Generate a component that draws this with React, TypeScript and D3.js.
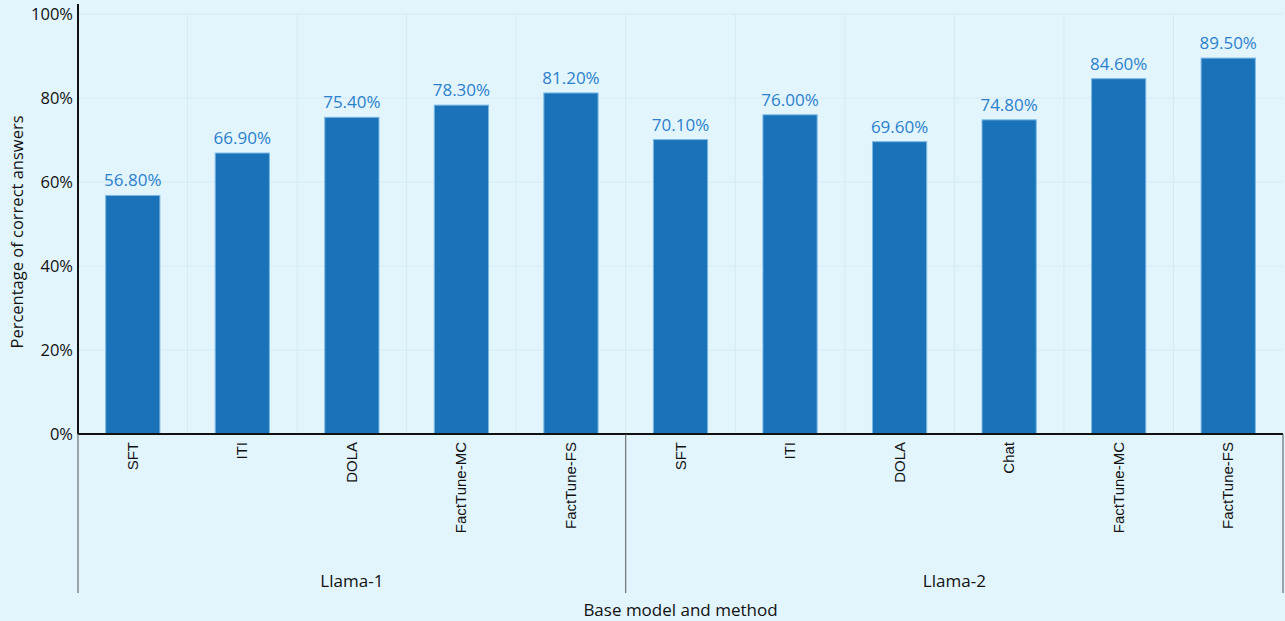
import React from "react";
import * as d3 from "d3";

const groups = ["Llama-1", "Llama-2"];
const methods1 = ["SFT", "ITI", "DOLA", "FactTune-MC", "FactTune-FS"];
const values1 = [56.8, 66.9, 75.4, 78.3, 81.2];
const methods2 = ["SFT", "ITI", "DOLA", "Chat", "FactTune-MC", "FactTune-FS"];
const values2 = [70.1, 76.0, 69.6, 74.8, 84.6, 89.5];
const yTicks = [0, 20, 40, 60, 80, 100];

const W = 1285, H = 621;
const left = 78, right = 1283, top = 14, bottom = 434;

export default function App() {
  const items = [
    ...methods1.map((m, i) => ({ g: groups[0], m, v: values1[i], key: "a" + i })),
    ...methods2.map((m, i) => ({ g: groups[1], m, v: values2[i], key: "b" + i })),
  ];
  const x = d3.scaleBand().domain(items.map(d => d.key)).range([left, right]).paddingInner(0).paddingOuter(0);
  const y = d3.scaleLinear().domain([0, 100]).range([bottom, top]);
  const bw = x.bandwidth();
  const barW = bw * 0.495;
  const sepX = x("b0")!;
  const groupCenters = [
    (left + sepX) / 2,
    (sepX + right) / 2,
  ];
  const font = "'Open Sans', Inter, sans-serif";
  return (
    <svg width={W} height={H} style={{ position: "absolute", left: 0, top: 0, background: "#e2f5fd" }}>
      <rect x={0} y={0} width={W} height={H} fill="#e2f5fd" />
      {/* grid */}
      {yTicks.map(t => (
        <line key={"gy" + t} x1={left} x2={right} y1={y(t)} y2={y(t)} stroke="#d5eaf3" strokeWidth={1} />
      ))}
      {items.slice(1).map(d => (
        <line key={"gx" + d.key} x1={x(d.key)!} x2={x(d.key)!} y1={top} y2={bottom} stroke="#d5eaf3" strokeWidth={1} />
      ))}
      {/* bars */}
      {items.map(d => {
        const cx = x(d.key)! + bw / 2;
        return (
          <g key={d.key}>
            <rect x={cx - barW / 2} y={y(d.v)} width={barW} height={bottom - y(d.v)} fill="#1a73b9" stroke="#7bb8e6" strokeWidth={1} />
            <text x={cx} y={y(d.v) - 9} textAnchor="middle" fontFamily={font} fontSize={17} fill="#2b7fcc">
              {d.v.toFixed(2) + "%"}
            </text>
            <text transform={`translate(${cx + 5},${bottom + 8}) rotate(-90)`} textAnchor="end" fontFamily="'Liberation Sans', Arial, sans-serif" fontSize={15} fill="#111">
              {d.m}
            </text>
          </g>
        );
      })}
      {/* axes */}
      <line x1={left} x2={left} y1={4} y2={bottom} stroke="#111" strokeWidth={2} />
      <line x1={left} x2={right} y1={bottom} y2={bottom} stroke="#111" strokeWidth={2} />
      <line x1={left} x2={left} y1={bottom} y2={593} stroke="#555" strokeWidth={1} />
      <line x1={sepX} x2={sepX} y1={bottom} y2={593} stroke="#555" strokeWidth={1} />
      <line x1={right} x2={right} y1={bottom} y2={593} stroke="#555" strokeWidth={1} />
      {yTicks.map(t => (
        <text key={"yt" + t} x={left - 5} y={y(t) + 6} textAnchor="end" fontFamily={font} fontSize={16.5} fill="#111">
          {t + "%"}
        </text>
      ))}
      {groups.map((g, i) => (
        <text key={g} x={groupCenters[i]} y={587} textAnchor="middle" fontFamily={font} fontSize={17} fill="#111">{g}</text>
      ))}
      <text x={(left + right) / 2} y={616} textAnchor="middle" fontFamily={font} fontSize={17} fill="#111">Base model and method</text>
      <text transform={`translate(23,${(top + bottom) / 2 + 8}) rotate(-90)`} textAnchor="middle" fontFamily={font} fontSize={16.5} fill="#111">
        Percentage of correct answers
      </text>
    </svg>
  );
}
